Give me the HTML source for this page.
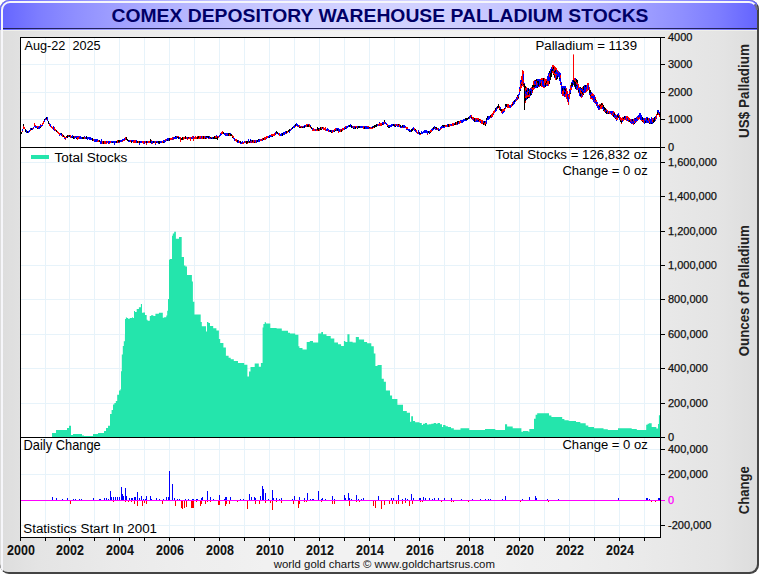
<!DOCTYPE html>
<html><head><meta charset="utf-8">
<style>
html,body{margin:0;padding:0;background:#fff;}
body{width:760px;height:575px;position:relative;overflow:hidden;font-family:"Liberation Sans",sans-serif;}
svg{position:absolute;left:0;top:0;}
text{font-family:"Liberation Sans",sans-serif;}
</style></head><body>
<svg width="760" height="575" viewBox="0 0 760 575">
<defs>
<linearGradient id="hdr" x1="0" x2="1" y1="0" y2="0">
<stop offset="0.00" stop-color="#6464ff"/><stop offset="0.05" stop-color="#7d7dff"/><stop offset="0.10" stop-color="#8f8fff"/><stop offset="0.15" stop-color="#9e9eff"/><stop offset="0.20" stop-color="#acacff"/><stop offset="0.25" stop-color="#b7b7ff"/><stop offset="0.30" stop-color="#c1c1ff"/><stop offset="0.35" stop-color="#c8c8ff"/><stop offset="0.40" stop-color="#ceceff"/><stop offset="0.45" stop-color="#d1d1ff"/><stop offset="0.50" stop-color="#d2d2ff"/><stop offset="0.55" stop-color="#d1d1ff"/><stop offset="0.60" stop-color="#ceceff"/><stop offset="0.65" stop-color="#c8c8ff"/><stop offset="0.70" stop-color="#c1c1ff"/><stop offset="0.75" stop-color="#b7b7ff"/><stop offset="0.80" stop-color="#acacff"/><stop offset="0.85" stop-color="#9e9eff"/><stop offset="0.90" stop-color="#8f8fff"/><stop offset="0.95" stop-color="#7d7dff"/><stop offset="1.00" stop-color="#6464ff"/>
</linearGradient>
<linearGradient id="gry" x1="0" x2="1" y1="0" y2="0">
<stop offset="0.00" stop-color="#dddddd"/><stop offset="0.05" stop-color="#e4e4e4"/><stop offset="0.10" stop-color="#e7e7e7"/><stop offset="0.15" stop-color="#eaeaea"/><stop offset="0.20" stop-color="#ececec"/><stop offset="0.25" stop-color="#eeeeee"/><stop offset="0.30" stop-color="#efefef"/><stop offset="0.35" stop-color="#f1f1f1"/><stop offset="0.40" stop-color="#f1f1f1"/><stop offset="0.45" stop-color="#f2f2f2"/><stop offset="0.50" stop-color="#f2f2f2"/><stop offset="0.55" stop-color="#f2f2f2"/><stop offset="0.60" stop-color="#f1f1f1"/><stop offset="0.65" stop-color="#f1f1f1"/><stop offset="0.70" stop-color="#efefef"/><stop offset="0.75" stop-color="#eeeeee"/><stop offset="0.80" stop-color="#ececec"/><stop offset="0.85" stop-color="#eaeaea"/><stop offset="0.90" stop-color="#e7e7e7"/><stop offset="0.95" stop-color="#e4e4e4"/><stop offset="1.00" stop-color="#dddddd"/>
</linearGradient>
<clipPath id="frame"><rect x="0" y="0" width="759" height="574" rx="9" ry="9"/></clipPath>
</defs>
<rect x="0" y="0" width="759" height="574" rx="9" ry="9" fill="#444"/>
<g clip-path="url(#frame)">
<rect x="0" y="0" width="757" height="572" rx="8" ry="8" fill="url(#gry)"/>
<rect x="0" y="0" width="757" height="30" fill="url(#hdr)"/>
<path d="M2,572V10A8,8 0 0 1 10,2H749A8,8 0 0 1 754.66,4.34" fill="none" stroke="#f6f6fa" stroke-width="2"/><path d="M754.66,4.34A8,8 0 0 1 757,10" fill="none" stroke="#707080" stroke-width="2"/>
<rect x="3" y="28" width="754" height="1" fill="#22225a"/>
<rect x="3" y="30" width="754" height="1" fill="#f0f0ea"/>
</g>
<text x="111.46" y="21.7" font-size="18.5" font-weight="bold" fill="#000066" textLength="537.04" lengthAdjust="spacingAndGlyphs">COMEX DEPOSITORY WAREHOUSE PALLADIUM STOCKS</text>
<rect x="20" y="37" width="640" height="500" fill="#fff"/>
<path d="M45.5,38V537 M69.5,38V537 M94.5,38V537 M119.5,38V537 M144.5,38V537 M169.5,38V537 M194.5,38V537 M219.5,38V537 M244.5,38V537 M269.5,38V537 M294.5,38V537 M319.5,38V537 M344.5,38V537 M369.5,38V537 M394.5,38V537 M419.5,38V537 M444.5,38V537 M469.5,38V537 M494.5,38V537 M519.5,38V537 M544.5,38V537 M569.5,38V537 M594.5,38V537 M619.5,38V537 M644.5,38V537 M21,119.5H660 M21,92.5H660 M21,64.5H660 M21,403.5H660 M21,368.5H660 M21,334.5H660 M21,299.5H660 M21,265.5H660 M21,231.5H660 M21,196.5H660 M21,162.5H660 M21,449.5H660 M21,474.5H660 M21,525.5H660" stroke="#e7f3fa" stroke-width="1" fill="none"/>
<path d="M52.0,437.0 L52.0,433.0 L56.0,433.0 L56.0,430.0 L67.0,430.0 L67.0,428.0 L69.0,428.0 L69.0,425.8 L71.0,425.8 L71.0,435.0 L73.0,435.0 L73.0,434.0 L82.0,434.0 L82.0,435.5 L84.0,435.5 L84.0,436.0 L93.0,436.0 L93.0,434.0 L98.0,434.0 L98.0,433.0 L104.0,433.0 L104.0,431.0 L106.0,431.0 L106.0,428.0 L108.0,428.0 L108.0,425.8 L110.0,425.8 L110.0,414.0 L111.6,414.0 L111.6,410.0 L113.0,410.0 L113.0,404.5 L114.4,404.5 L114.4,403.0 L115.8,403.0 L115.8,401.0 L117.2,401.0 L117.2,394.8 L119.0,394.8 L119.0,390.6 L120.4,390.6 L120.4,389.2 L121.0,389.2 L121.0,371.2 L121.8,371.2 L121.8,354.5 L122.8,354.5 L122.8,346.0 L123.8,346.0 L123.8,341.3 L124.9,341.3 L124.9,335.0 L125.0,335.0 L125.0,318.9 L125.9,318.9 L125.9,317.2 L126.7,317.2 L126.7,318.0 L128.0,318.0 L128.0,318.7 L129.8,318.7 L129.8,318.0 L132.0,318.0 L132.0,317.2 L132.8,317.2 L132.8,318.0 L134.0,318.0 L134.0,311.0 L135.0,311.0 L135.0,312.0 L136.7,312.0 L136.7,309.0 L138.9,309.0 L138.9,307.2 L140.9,307.2 L140.9,304.1 L142.0,304.1 L142.0,312.8 L143.3,312.8 L143.3,312.4 L145.0,312.4 L145.0,315.0 L146.7,315.0 L146.7,319.8 L147.6,319.8 L147.6,320.7 L149.8,320.7 L149.8,315.9 L151.1,315.9 L151.1,315.2 L153.3,315.2 L153.3,315.9 L155.4,315.9 L155.4,313.7 L158.9,313.7 L158.9,312.8 L162.8,312.8 L162.8,317.8 L164.1,317.8 L164.1,317.2 L166.3,317.2 L166.3,315.4 L167.2,315.4 L167.2,310.7 L168.0,310.7 L168.0,299.0 L169.0,299.0 L169.0,260.0 L169.6,260.0 L169.6,259.0 L172.0,259.0 L172.0,235.7 L172.8,235.7 L172.8,233.6 L174.2,233.6 L174.2,231.8 L175.9,231.8 L175.9,238.8 L179.0,238.8 L179.0,237.1 L181.7,237.1 L181.7,256.9 L184.0,256.9 L184.0,265.6 L185.4,265.6 L185.4,266.6 L187.0,266.6 L187.0,275.0 L191.9,275.0 L191.9,281.6 L192.9,281.6 L192.9,301.8 L194.4,301.8 L194.4,314.4 L200.7,314.4 L200.7,322.0 L201.8,322.0 L201.8,326.3 L206.0,326.3 L206.0,331.5 L207.0,331.5 L207.0,322.0 L208.4,322.0 L208.4,323.0 L210.0,323.0 L210.0,326.0 L213.2,326.0 L213.2,328.3 L216.4,328.3 L216.4,330.4 L218.9,330.4 L218.9,339.0 L220.2,339.0 L220.2,343.0 L223.4,343.0 L223.4,347.4 L225.9,347.4 L225.9,355.7 L228.6,355.7 L228.6,357.8 L230.7,357.8 L230.7,359.3 L233.8,359.3 L233.8,361.0 L238.0,361.0 L238.0,363.0 L244.2,363.0 L244.2,364.7 L247.4,364.7 L247.4,376.6 L249.0,376.6 L249.0,371.4 L250.5,371.4 L250.5,367.0 L254.7,367.0 L254.7,363.4 L258.8,363.4 L258.8,366.8 L260.9,366.8 L260.9,363.0 L262.6,363.0 L262.6,327.5 L263.4,327.5 L263.4,324.0 L264.7,324.0 L264.7,322.3 L266.0,322.3 L266.0,323.4 L270.3,323.4 L270.3,328.0 L276.6,328.0 L276.6,328.6 L281.8,328.6 L281.8,330.7 L288.0,330.7 L288.0,332.7 L290.0,332.7 L290.0,333.4 L295.2,333.4 L295.2,334.8 L298.4,334.8 L298.4,346.3 L299.4,346.3 L299.4,348.0 L302.5,348.0 L302.5,349.4 L306.7,349.4 L306.7,342.0 L309.8,342.0 L309.8,341.0 L313.0,341.0 L313.0,342.6 L318.2,342.6 L318.2,333.4 L321.3,333.4 L321.3,332.0 L323.0,332.0 L323.0,334.2 L326.5,334.2 L326.5,335.9 L330.7,335.9 L330.7,338.4 L334.3,338.4 L334.3,342.6 L338.0,342.6 L338.0,344.2 L341.1,344.2 L341.1,346.0 L343.9,346.0 L343.9,341.0 L345.3,341.0 L345.3,342.0 L347.4,342.0 L347.4,334.2 L349.5,334.2 L349.5,341.7 L352.6,341.7 L352.6,342.6 L355.8,342.6 L355.8,337.0 L358.9,337.0 L358.9,339.6 L364.1,339.6 L364.1,342.0 L367.1,342.0 L367.1,343.2 L371.3,343.2 L371.3,346.3 L373.8,346.3 L373.8,353.6 L375.4,353.6 L375.4,366.1 L377.5,366.1 L377.5,365.0 L381.7,365.0 L381.7,378.7 L383.8,378.7 L383.8,381.8 L385.9,381.8 L385.9,390.6 L390.0,390.6 L390.0,395.4 L392.1,395.4 L392.1,399.0 L397.4,399.0 L397.4,404.8 L403.0,404.8 L403.0,411.0 L406.8,411.0 L406.8,412.7 L410.0,412.7 L410.0,421.8 L411.2,421.8 L411.2,416.2 L413.0,416.2 L413.0,421.0 L415.1,421.0 L415.1,422.2 L419.5,422.2 L419.5,423.0 L421.8,423.0 L421.8,425.0 L423.0,425.0 L423.0,423.8 L425.0,423.8 L425.0,423.0 L427.0,423.0 L427.0,424.6 L429.0,424.6 L429.0,424.2 L431.3,424.2 L431.3,423.8 L433.7,423.8 L433.7,423.0 L436.0,423.0 L436.0,423.8 L437.6,423.8 L437.6,423.0 L440.0,423.0 L440.0,424.2 L442.0,424.2 L442.0,427.0 L443.1,427.0 L443.1,425.0 L445.5,425.0 L445.5,426.2 L447.9,426.2 L447.9,427.0 L451.0,427.0 L451.0,428.2 L453.8,428.2 L453.8,429.7 L460.5,429.7 L460.5,428.2 L469.2,428.2 L469.2,430.0 L485.0,430.0 L485.0,429.0 L495.3,429.0 L495.3,430.0 L505.0,430.0 L505.0,424.2 L507.1,424.2 L507.1,426.6 L512.7,426.6 L512.7,428.2 L521.4,428.2 L521.4,431.7 L523.0,431.7 L523.0,431.0 L528.5,431.0 L528.5,432.1 L529.3,432.1 L529.3,429.0 L534.0,429.0 L534.0,418.7 L535.6,418.7 L535.6,414.7 L537.2,414.7 L537.2,413.2 L549.0,413.2 L549.0,415.5 L551.4,415.5 L551.4,417.1 L555.0,417.1 L555.0,417.0 L562.2,417.0 L562.2,418.9 L564.4,418.9 L564.4,420.3 L568.7,420.3 L568.7,421.0 L576.0,421.0 L576.0,422.0 L580.3,422.0 L580.3,423.2 L585.7,423.2 L585.7,425.4 L588.3,425.4 L588.3,427.1 L594.0,427.1 L594.0,428.3 L603.5,428.3 L603.5,429.3 L607.8,429.3 L607.8,430.0 L618.0,430.0 L618.0,428.3 L631.7,428.3 L631.7,429.0 L636.8,429.0 L636.8,430.0 L646.2,430.0 L646.2,424.7 L647.6,424.7 L647.6,423.7 L649.0,423.7 L649.0,423.2 L651.7,423.2 L651.7,427.1 L656.3,427.1 L656.3,428.6 L658.0,428.6 L658.0,424.0 L658.9,424.0 L658.9,415.3 L660.0,415.3 L660.0,437.0Z" fill="#24e5ac"/>
<rect x="21" y="500" width="644" height="1" fill="#ff00ff"/>
<g fill="#0000ff"><rect x="52" y="497" width="1" height="3"/><rect x="56" y="498" width="1" height="2"/><rect x="62" y="499" width="1" height="1"/><rect x="67" y="498" width="1" height="2"/><rect x="73" y="499" width="1" height="1"/><rect x="75" y="499" width="1" height="1"/><rect x="79" y="499" width="1" height="1"/><rect x="81" y="499" width="1" height="1"/><rect x="93" y="498" width="1" height="2"/><rect x="99" y="499" width="1" height="1"/><rect x="100" y="499" width="1" height="1"/><rect x="104" y="498" width="1" height="2"/><rect x="106" y="498" width="1" height="2"/><rect x="108" y="499" width="1" height="1"/><rect x="110" y="491" width="1" height="9"/><rect x="111" y="497" width="1" height="3"/><rect x="113" y="497" width="1" height="3"/><rect x="115" y="497" width="1" height="3"/><rect x="117" y="497" width="1" height="3"/><rect x="119" y="497" width="1" height="3"/><rect x="121" y="487" width="1" height="13"/><rect x="122" y="494" width="1" height="6"/><rect x="123" y="496" width="1" height="4"/><rect x="125" y="488" width="1" height="12"/><rect x="126" y="496" width="1" height="4"/><rect x="129" y="498" width="1" height="2"/><rect x="131" y="498" width="1" height="2"/><rect x="132" y="498" width="1" height="2"/><rect x="134" y="497" width="1" height="3"/><rect x="135" y="497" width="1" height="3"/><rect x="137" y="492" width="1" height="8"/><rect x="139" y="498" width="1" height="2"/><rect x="141" y="496" width="1" height="4"/><rect x="143" y="499" width="1" height="1"/><rect x="145" y="499" width="1" height="1"/><rect x="146" y="496" width="1" height="4"/><rect x="150" y="496" width="1" height="4"/><rect x="151" y="499" width="1" height="1"/><rect x="156" y="498" width="1" height="2"/><rect x="159" y="499" width="1" height="1"/><rect x="163" y="499" width="1" height="1"/><rect x="166" y="497" width="1" height="3"/><rect x="168" y="497" width="1" height="3"/><rect x="169" y="471" width="1" height="29"/><rect x="172" y="484" width="1" height="16"/><rect x="174" y="498" width="1" height="2"/><rect x="177" y="499" width="1" height="1"/><rect x="179" y="499" width="1" height="1"/><rect x="185" y="499" width="1" height="1"/><rect x="188" y="499" width="1" height="1"/><rect x="192" y="499" width="1" height="1"/><rect x="193" y="499" width="1" height="1"/><rect x="197" y="499" width="1" height="1"/><rect x="196" y="499" width="1" height="1"/><rect x="201" y="498" width="1" height="2"/><rect x="202" y="497" width="1" height="3"/><rect x="207" y="491" width="1" height="9"/><rect x="210" y="497" width="1" height="3"/><rect x="213" y="499" width="1" height="1"/><rect x="219" y="495" width="1" height="5"/><rect x="224" y="499" width="1" height="1"/><rect x="225" y="497" width="1" height="3"/><rect x="226" y="497" width="1" height="3"/><rect x="230" y="497" width="1" height="3"/><rect x="240" y="499" width="1" height="1"/><rect x="243" y="499" width="1" height="1"/><rect x="249" y="494" width="1" height="6"/><rect x="251" y="497" width="1" height="3"/><rect x="254" y="497" width="1" height="3"/><rect x="255" y="498" width="1" height="2"/><rect x="260" y="496" width="1" height="4"/><rect x="262" y="486" width="1" height="14"/><rect x="263" y="489" width="1" height="11"/><rect x="265" y="493" width="1" height="7"/><rect x="268" y="499" width="1" height="1"/><rect x="272" y="490" width="1" height="10"/><rect x="273" y="498" width="1" height="2"/><rect x="276" y="498" width="1" height="2"/><rect x="279" y="499" width="1" height="1"/><rect x="281" y="498" width="1" height="2"/><rect x="292" y="499" width="1" height="1"/><rect x="294" y="496" width="1" height="4"/><rect x="299" y="497" width="1" height="3"/><rect x="304" y="498" width="1" height="2"/><rect x="307" y="493" width="1" height="7"/><rect x="310" y="499" width="1" height="1"/><rect x="312" y="499" width="1" height="1"/><rect x="313" y="499" width="1" height="1"/><rect x="318" y="491" width="1" height="9"/><rect x="321" y="499" width="1" height="1"/><rect x="322" y="498" width="1" height="2"/><rect x="325" y="499" width="1" height="1"/><rect x="332" y="496" width="1" height="4"/><rect x="334" y="499" width="1" height="1"/><rect x="344" y="495" width="1" height="5"/><rect x="345" y="498" width="1" height="2"/><rect x="348" y="493" width="1" height="7"/><rect x="349" y="498" width="1" height="2"/><rect x="351" y="499" width="1" height="1"/><rect x="356" y="495" width="1" height="5"/><rect x="358" y="499" width="1" height="1"/><rect x="361" y="499" width="1" height="1"/><rect x="363" y="498" width="1" height="2"/><rect x="378" y="496" width="1" height="4"/><rect x="391" y="498" width="1" height="2"/><rect x="393" y="498" width="1" height="2"/><rect x="398" y="495" width="1" height="5"/><rect x="402" y="499" width="1" height="1"/><rect x="405" y="498" width="1" height="2"/><rect x="407" y="499" width="1" height="1"/><rect x="411" y="494" width="1" height="6"/><rect x="413" y="498" width="1" height="2"/><rect x="419" y="498" width="1" height="2"/><rect x="420" y="498" width="1" height="2"/><rect x="423" y="497" width="1" height="3"/><rect x="425" y="498" width="1" height="2"/><rect x="429" y="498" width="1" height="2"/><rect x="432" y="499" width="1" height="1"/><rect x="434" y="498" width="1" height="2"/><rect x="438" y="498" width="1" height="2"/><rect x="444" y="498" width="1" height="2"/><rect x="451" y="498" width="1" height="2"/><rect x="461" y="499" width="1" height="1"/><rect x="472" y="499" width="1" height="1"/><rect x="480" y="499" width="1" height="1"/><rect x="485" y="499" width="1" height="1"/><rect x="488" y="499" width="1" height="1"/><rect x="490" y="499" width="1" height="1"/><rect x="502" y="499" width="1" height="1"/><rect x="505" y="496" width="1" height="4"/><rect x="522" y="499" width="1" height="1"/><rect x="529" y="497" width="1" height="3"/><rect x="529" y="497" width="1" height="3"/><rect x="535" y="496" width="1" height="4"/><rect x="536" y="498" width="1" height="2"/><rect x="547" y="499" width="1" height="1"/><rect x="558" y="499" width="1" height="1"/><rect x="618" y="498" width="1" height="2"/><rect x="646" y="498" width="1" height="2"/><rect x="647" y="498" width="1" height="2"/><rect x="649" y="499" width="1" height="1"/><rect x="658" y="498" width="1" height="2"/><rect x="659" y="498" width="1" height="2"/></g>
<g fill="#ff0000"><rect x="70" y="501" width="1" height="3"/><rect x="113" y="501" width="1" height="1"/><rect x="125" y="501" width="1" height="1"/><rect x="128" y="501" width="1" height="1"/><rect x="131" y="501" width="1" height="1"/><rect x="134" y="501" width="1" height="3"/><rect x="137" y="501" width="1" height="5"/><rect x="142" y="501" width="1" height="5"/><rect x="144" y="501" width="1" height="2"/><rect x="146" y="501" width="1" height="3"/><rect x="162" y="501" width="1" height="3"/><rect x="175" y="501" width="1" height="5"/><rect x="181" y="501" width="1" height="7"/><rect x="182" y="501" width="1" height="8"/><rect x="184" y="501" width="1" height="7"/><rect x="186" y="501" width="1" height="6"/><rect x="191" y="501" width="1" height="7"/><rect x="192" y="501" width="1" height="7"/><rect x="193" y="501" width="1" height="7"/><rect x="196" y="501" width="1" height="1"/><rect x="200" y="501" width="1" height="5"/><rect x="201" y="501" width="1" height="3"/><rect x="205" y="501" width="1" height="3"/><rect x="207" y="501" width="1" height="1"/><rect x="210" y="501" width="1" height="1"/><rect x="218" y="501" width="1" height="4"/><rect x="219" y="501" width="1" height="4"/><rect x="225" y="501" width="1" height="5"/><rect x="226" y="501" width="1" height="3"/><rect x="229" y="501" width="1" height="3"/><rect x="237" y="501" width="1" height="1"/><rect x="247" y="501" width="1" height="8"/><rect x="255" y="501" width="1" height="3"/><rect x="259" y="501" width="1" height="3"/><rect x="265" y="501" width="1" height="2"/><rect x="270" y="501" width="1" height="2"/><rect x="272" y="501" width="1" height="9"/><rect x="276" y="501" width="1" height="1"/><rect x="281" y="501" width="1" height="2"/><rect x="293" y="501" width="1" height="3"/><rect x="298" y="501" width="1" height="7"/><rect x="299" y="501" width="1" height="3"/><rect x="304" y="501" width="1" height="1"/><rect x="306" y="501" width="1" height="1"/><rect x="306" y="501" width="1" height="1"/><rect x="321" y="501" width="1" height="1"/><rect x="332" y="501" width="1" height="3"/><rect x="334" y="501" width="1" height="3"/><rect x="349" y="501" width="1" height="5"/><rect x="356" y="501" width="1" height="1"/><rect x="359" y="501" width="1" height="1"/><rect x="373" y="501" width="1" height="5"/><rect x="375" y="501" width="1" height="7"/><rect x="381" y="501" width="1" height="8"/><rect x="384" y="501" width="1" height="4"/><rect x="389" y="501" width="1" height="3"/><rect x="392" y="501" width="1" height="3"/><rect x="396" y="501" width="1" height="3"/><rect x="398" y="501" width="1" height="3"/><rect x="402" y="501" width="1" height="3"/><rect x="405" y="501" width="1" height="2"/><rect x="409" y="501" width="1" height="5"/><rect x="412" y="501" width="1" height="3"/><rect x="420" y="501" width="1" height="1"/><rect x="422" y="501" width="1" height="1"/><rect x="441" y="501" width="1" height="1"/><rect x="451" y="501" width="1" height="1"/><rect x="453" y="501" width="1" height="1"/><rect x="468" y="501" width="1" height="1"/><rect x="520" y="501" width="1" height="1"/><rect x="548" y="501" width="1" height="1"/><rect x="651" y="501" width="1" height="1"/><rect x="655" y="501" width="1" height="1"/></g>
<path d="M22.5,129v2M26.5,130v1M26.5,131v2M28.5,131v2M29.5,130v2M30.5,128v2M32.5,128v2M33.5,127v1M34.5,126v1M35.5,126v2M36.5,126v2M38.5,127v2M39.5,126v2M39.5,128v1M40.5,125v2M41.5,125v1M42.5,125v1M44.5,120v2M45.5,118v2M47.5,117v2M47.5,119v2M49.5,123v1M50.5,124v3M53.5,126v3M53.5,129v1M54.5,130v1M59.5,135v1M60.5,133v2M61.5,134v2M64.5,138v1M65.5,138v1M68.5,136v1M71.5,136v2M72.5,135v1M72.5,136v1M74.5,137v2M75.5,136v2M76.5,136v2M77.5,136v1M78.5,136v1M79.5,137v2M80.5,136v1M80.5,137v2M81.5,137v2M84.5,136v1M85.5,137v2M87.5,137v3M88.5,137v2M89.5,137v2M89.5,139v1M90.5,137v2M90.5,139v1M91.5,138v2M94.5,139v3M95.5,139v2M95.5,141v1M96.5,139v1M96.5,140v2M97.5,139v2M100.5,141v2M100.5,143v1M101.5,139v3M101.5,142v2M106.5,141v2M108.5,141v3M109.5,141v2M111.5,141v2M112.5,141v1M113.5,141v2M114.5,141v2M114.5,143v2M115.5,141v2M118.5,142v1M120.5,140v2M121.5,140v2M122.5,139v1M122.5,140v1M123.5,139v1M124.5,138v2M128.5,141v1M129.5,140v2M131.5,140v1M132.5,140v2M133.5,140v1M136.5,140v2M136.5,142v1M139.5,143v2M140.5,141v2M141.5,141v2M144.5,141v3M147.5,141v2M151.5,141v1M151.5,142v2M152.5,141v2M154.5,141v2M155.5,144v1M156.5,141v1M157.5,141v2M158.5,143v1M160.5,141v2M161.5,141v2M163.5,140v1M163.5,141v1M164.5,140v2M164.5,142v1M165.5,141v1M166.5,139v2M167.5,138v2M168.5,138v2M168.5,140v1M172.5,139v1M173.5,137v2M174.5,137v2M175.5,137v2M176.5,136v2M176.5,138v1M179.5,137v2M187.5,137v2M191.5,137v2M192.5,138v1M193.5,136v2M200.5,138v1M201.5,136v1M201.5,137v1M205.5,136v2M206.5,137v1M207.5,137v1M208.5,138v1M209.5,136v2M210.5,138v1M212.5,137v2M216.5,135v1M217.5,136v1M219.5,135v2M220.5,133v1M220.5,134v2M221.5,134v1M224.5,133v2M225.5,133v3M226.5,133v1M226.5,135v1M227.5,133v2M227.5,135v1M230.5,133v1M233.5,138v1M234.5,138v3M237.5,142v1M238.5,140v2M238.5,142v1M240.5,143v1M241.5,142v2M242.5,141v2M244.5,141v2M248.5,139v2M248.5,141v1M250.5,139v1M250.5,141v1M251.5,140v1M251.5,142v1M254.5,140v2M256.5,140v3M258.5,140v2M259.5,139v2M259.5,141v1M261.5,139v1M262.5,140v1M266.5,138v1M268.5,136v2M269.5,135v2M270.5,135v2M271.5,136v1M275.5,132v3M278.5,133v1M278.5,134v1M280.5,134v2M281.5,133v3M283.5,132v2M283.5,134v1M284.5,132v3M285.5,131v2M286.5,133v1M289.5,131v2M290.5,130v1M291.5,128v2M293.5,126v2M294.5,125v3M296.5,123v1M296.5,124v1M296.5,125v1M297.5,124v2M298.5,125v2M301.5,126v1M303.5,126v2M304.5,125v1M305.5,125v2M308.5,124v1M310.5,125v1M312.5,128v2M315.5,129v2M319.5,128v1M322.5,128v1M326.5,129v2M327.5,128v3M328.5,129v1M329.5,130v2M331.5,130v2M333.5,130v2M336.5,128v3M337.5,128v1M338.5,128v3M339.5,129v3M341.5,129v1M344.5,127v2M344.5,129v1M346.5,126v2M346.5,128v1M347.5,126v2M348.5,125v2M350.5,124v2M350.5,126v1M352.5,126v2M354.5,126v3M357.5,126v2M360.5,126v2M361.5,126v2M362.5,126v1M362.5,127v1M364.5,126v1M365.5,126v3M366.5,126v3M367.5,127v2M368.5,127v2M371.5,127v1M372.5,126v1M377.5,124v2M379.5,122v1M379.5,125v1M382.5,122v2M383.5,122v2M383.5,124v1M385.5,122v2M386.5,123v2M388.5,125v2M389.5,125v2M390.5,125v2M391.5,124v3M392.5,124v2M394.5,124v1M394.5,126v1M396.5,124v2M397.5,126v1M398.5,125v2M400.5,127v1M401.5,126v2M403.5,125v2M403.5,127v1M404.5,125v2M404.5,127v1M405.5,126v1M406.5,129v1M407.5,129v1M408.5,129v2M409.5,129v2M410.5,130v1M410.5,131v1M412.5,128v1M413.5,127v1M413.5,128v2M414.5,130v1M415.5,130v2M416.5,132v1M418.5,130v2M418.5,132v2M419.5,134v1M421.5,131v1M421.5,132v1M421.5,133v1M422.5,132v2M423.5,131v2M424.5,130v1M424.5,131v2M425.5,130v2M425.5,132v1M426.5,130v3M427.5,131v1M427.5,132v2M429.5,131v2M431.5,129v1M432.5,128v2M432.5,130v1M433.5,129v1M434.5,126v1M434.5,127v1M434.5,128v1M435.5,129v1M436.5,129v1M438.5,128v2M439.5,129v1M439.5,130v1M440.5,127v2M441.5,126v2M442.5,126v2M443.5,127v1M444.5,126v2M447.5,124v3M450.5,124v1M451.5,124v2M454.5,123v1M457.5,124v1M458.5,122v2M460.5,120v1M461.5,120v2M461.5,122v1M462.5,120v3M463.5,119v2M463.5,121v1M464.5,119v2M465.5,120v1M466.5,120v1M469.5,116v2M469.5,118v1M470.5,115v2M471.5,118v1M473.5,119v2M475.5,121v1M476.5,119v3M477.5,120v2M478.5,121v1M480.5,121v2M483.5,121v2M485.5,121v1M486.5,120v2M486.5,122v2M487.5,118v2M488.5,116v2M488.5,118v2M489.5,116v3M491.5,117v1M493.5,114v1M495.5,110v1M495.5,111v1M496.5,107v2M496.5,109v2M500.5,107v2M502.5,112v2M503.5,111v2M504.5,111v1M505.5,106v2M509.5,105v2M510.5,105v1M510.5,106v1M510.5,107v1M512.5,105v1M513.5,101v3M513.5,104v1M514.5,102v2M515.5,99v2M515.5,101v1M516.5,97v2M517.5,98v2M518.5,94v3M519.5,87v2M519.5,92v3M520.5,80v2M520.5,82v2M520.5,89v1M521.5,80v2M521.5,85v1M522.5,80v3M523.5,74v3M523.5,77v3M523.5,82v1M524.5,83v2M524.5,87v1M524.5,104v1M524.5,107v1M525.5,91v3M525.5,95v1M526.5,92v3M526.5,98v1M526.5,99v1M527.5,88v2M527.5,90v2M527.5,94v1M529.5,89v2M529.5,91v3M529.5,97v1M530.5,88v2M530.5,90v1M530.5,95v1M531.5,89v2M531.5,91v3M534.5,81v2M534.5,83v1M534.5,87v1M535.5,81v3M535.5,84v1M535.5,86v2M536.5,85v1M536.5,86v2M537.5,79v2M537.5,83v2M537.5,85v2M538.5,79v2M538.5,86v1M539.5,79v3M539.5,82v1M539.5,83v2M540.5,80v3M541.5,80v1M542.5,80v3M542.5,83v1M542.5,84v2M543.5,81v2M543.5,83v2M543.5,85v2M544.5,85v2M546.5,85v1M547.5,76v2M547.5,78v3M547.5,84v2M548.5,73v3M548.5,76v3M548.5,79v2M549.5,73v1M549.5,77v3M549.5,80v1M550.5,69v1M550.5,70v3M551.5,67v3M553.5,69v2M554.5,77v1M555.5,72v2M556.5,70v2M556.5,72v2M556.5,75v3M557.5,72v2M557.5,74v2M558.5,71v1M558.5,73v2M558.5,75v2M559.5,72v2M559.5,74v2M559.5,76v2M559.5,79v2M560.5,73v2M560.5,78v2M560.5,80v2M560.5,83v2M561.5,82v3M561.5,86v3M561.5,89v2M561.5,91v3M562.5,86v2M563.5,86v2M563.5,88v2M563.5,94v1M564.5,86v2M564.5,90v2M564.5,94v2M564.5,96v1M565.5,86v2M565.5,88v1M565.5,91v3M567.5,94v2M567.5,96v2M567.5,98v1M568.5,94v1M568.5,97v2M568.5,99v3M569.5,89v2M569.5,93v1M570.5,90v3M571.5,82v1M571.5,86v2M572.5,80v3M572.5,86v1M573.5,82v2M573.5,84v1M574.5,86v1M575.5,78v2M576.5,84v1M576.5,86v2M576.5,88v1M576.5,89v1M577.5,85v3M578.5,88v2M579.5,88v3M579.5,91v1M579.5,92v2M579.5,94v1M579.5,95v1M580.5,88v2M580.5,96v1M581.5,89v2M581.5,94v2M582.5,89v3M582.5,96v1M583.5,91v2M584.5,85v3M584.5,88v3M584.5,91v2M585.5,87v2M585.5,89v3M586.5,85v2M586.5,87v2M588.5,85v2M588.5,87v1M588.5,88v2M589.5,93v1M589.5,94v1M590.5,93v2M591.5,92v2M591.5,96v2M592.5,96v2M593.5,96v3M593.5,99v2M593.5,101v1M594.5,95v1M594.5,96v2M594.5,98v3M594.5,102v1M595.5,101v2M596.5,102v2M596.5,104v1M596.5,105v1M597.5,102v2M597.5,106v2M598.5,105v3M598.5,108v2M599.5,107v2M602.5,107v2M603.5,108v2M605.5,110v2M606.5,110v1M607.5,113v1M608.5,111v2M610.5,111v2M611.5,111v1M611.5,112v2M611.5,114v1M612.5,111v2M613.5,113v2M614.5,115v2M614.5,117v1M615.5,115v1M615.5,116v1M616.5,116v2M616.5,120v1M617.5,114v1M618.5,113v3M619.5,117v3M622.5,120v2M623.5,117v1M625.5,116v2M625.5,118v1M625.5,119v1M627.5,118v2M627.5,120v1M628.5,120v1M630.5,121v1M630.5,122v1M631.5,119v2M631.5,122v2M632.5,121v2M633.5,121v3M634.5,118v3M635.5,119v3M635.5,122v1M636.5,117v2M636.5,119v2M637.5,116v1M637.5,119v2M638.5,115v1M638.5,116v2M639.5,113v3M639.5,116v1M640.5,113v2M640.5,115v2M640.5,117v1M640.5,118v2M641.5,115v3M641.5,118v2M643.5,118v1M643.5,119v1M644.5,118v3M644.5,121v3M645.5,120v1M646.5,117v2M646.5,119v2M646.5,121v2M647.5,117v1M647.5,120v1M647.5,121v2M648.5,121v2M649.5,118v3M650.5,119v1M650.5,120v2M650.5,122v2M651.5,117v2M651.5,119v2M651.5,121v2M652.5,122v2M653.5,118v2M655.5,116v2M655.5,120v1M656.5,118v1M657.5,110v2M658.5,110v3M659.5,112v2" stroke="#0000ff" stroke-width="1" fill="none"/><path d="M22.5,131v1M23.5,126v2M23.5,128v1M24.5,127v2M30.5,130v1M33.5,128v1M34.5,123v2M34.5,125v1M35.5,125v1M37.5,126v2M38.5,126v1M40.5,124v1M41.5,126v1M42.5,123v2M43.5,121v3M46.5,119v1M49.5,124v2M51.5,126v2M52.5,127v2M54.5,127v2M54.5,129v1M55.5,129v2M57.5,131v2M58.5,132v2M59.5,133v2M62.5,134v2M62.5,136v1M64.5,136v2M65.5,137v1M65.5,139v1M66.5,137v1M68.5,135v1M70.5,135v2M70.5,137v1M74.5,136v1M77.5,137v3M78.5,137v2M79.5,136v1M84.5,137v2M93.5,139v2M97.5,141v1M98.5,140v2M102.5,141v3M104.5,141v2M104.5,143v1M105.5,141v2M105.5,143v1M106.5,143v1M107.5,141v1M107.5,142v1M109.5,143v1M110.5,141v2M117.5,140v3M119.5,142v1M122.5,141v1M123.5,140v1M124.5,140v1M125.5,137v2M125.5,139v1M130.5,140v2M133.5,141v2M134.5,140v2M134.5,142v1M135.5,140v2M135.5,142v1M138.5,141v2M142.5,141v2M143.5,141v2M143.5,143v1M145.5,141v2M146.5,143v2M148.5,141v1M148.5,142v1M149.5,141v2M151.5,140v1M152.5,143v1M155.5,141v3M162.5,141v1M162.5,142v1M165.5,139v2M170.5,138v2M171.5,138v2M172.5,137v2M173.5,139v1M177.5,136v1M178.5,136v1M180.5,137v1M180.5,138v2M180.5,140v2M183.5,137v1M183.5,138v2M184.5,137v2M186.5,137v2M187.5,139v1M188.5,138v1M189.5,137v2M190.5,137v2M190.5,139v2M192.5,136v2M193.5,138v2M193.5,140v1M194.5,137v2M195.5,136v2M195.5,138v1M196.5,137v2M197.5,136v1M198.5,138v1M199.5,136v1M199.5,137v2M200.5,136v2M201.5,138v1M202.5,136v2M202.5,138v1M204.5,136v1M204.5,137v2M206.5,138v1M209.5,138v1M211.5,137v1M215.5,136v2M216.5,136v2M218.5,136v2M221.5,132v2M222.5,131v2M222.5,133v1M226.5,134v1M229.5,134v2M232.5,135v2M233.5,136v2M235.5,139v2M236.5,139v3M239.5,141v2M242.5,143v1M243.5,142v1M243.5,143v1M245.5,141v2M247.5,143v1M248.5,142v1M250.5,142v1M251.5,141v1M252.5,142v1M253.5,140v3M255.5,140v1M255.5,141v2M260.5,139v2M261.5,140v1M262.5,138v2M264.5,137v3M265.5,137v2M265.5,139v1M266.5,136v2M267.5,136v1M267.5,137v1M271.5,134v2M272.5,134v2M273.5,134v2M274.5,133v2M274.5,135v1M276.5,133v1M279.5,133v3M285.5,133v1M287.5,131v2M290.5,129v1M295.5,126v1M297.5,126v1M299.5,125v2M300.5,126v1M301.5,127v1M302.5,126v1M306.5,124v2M306.5,126v1M307.5,124v1M309.5,124v2M309.5,126v1M310.5,127v1M312.5,130v1M313.5,128v3M314.5,129v2M316.5,129v2M317.5,130v1M319.5,129v2M321.5,127v2M323.5,127v2M323.5,129v1M324.5,128v2M325.5,127v1M325.5,128v3M328.5,130v2M332.5,130v2M332.5,132v1M334.5,129v2M335.5,128v2M338.5,131v2M340.5,129v2M340.5,131v1M342.5,128v1M342.5,129v2M343.5,128v2M345.5,126v2M353.5,126v2M355.5,126v1M356.5,126v2M363.5,126v3M367.5,126v1M368.5,126v1M369.5,128v1M370.5,127v2M371.5,128v1M372.5,128v1M373.5,127v1M378.5,124v2M379.5,123v2M380.5,123v2M380.5,125v1M381.5,123v3M384.5,122v2M387.5,124v1M387.5,125v1M395.5,124v2M397.5,124v2M399.5,124v2M399.5,126v1M402.5,127v1M405.5,127v1M406.5,127v2M407.5,127v2M414.5,128v2M416.5,130v2M417.5,132v2M420.5,134v1M427.5,134v1M430.5,130v2M431.5,130v1M431.5,131v1M435.5,128v1M437.5,128v2M440.5,129v1M441.5,128v1M445.5,125v2M446.5,125v2M449.5,124v2M449.5,126v1M450.5,125v1M452.5,123v3M453.5,123v3M456.5,122v2M456.5,124v1M459.5,121v2M459.5,123v1M460.5,121v2M470.5,117v1M471.5,115v2M472.5,117v2M472.5,119v1M473.5,117v2M475.5,118v3M476.5,118v1M477.5,118v2M478.5,118v2M479.5,120v2M480.5,119v2M481.5,120v1M481.5,121v3M482.5,120v3M482.5,123v1M484.5,123v2M485.5,122v2M490.5,117v1M491.5,114v3M492.5,113v2M492.5,115v2M493.5,111v3M494.5,110v3M497.5,108v1M499.5,106v2M499.5,108v1M501.5,111v2M502.5,109v3M503.5,109v2M504.5,109v2M505.5,108v1M507.5,104v2M507.5,106v2M508.5,104v2M508.5,106v2M509.5,107v1M511.5,104v3M512.5,102v2M516.5,99v2M517.5,96v2M518.5,98v1M519.5,89v3M520.5,84v1M520.5,85v2M520.5,87v2M521.5,76v2M521.5,78v2M521.5,82v2M521.5,86v2M522.5,72v3M522.5,79v1M523.5,71v3M523.5,80v2M523.5,83v1M523.5,85v2M524.5,88v2M524.5,90v3M524.5,94v2M524.5,96v3M524.5,99v3M524.5,105v2M525.5,88v1M525.5,89v2M525.5,94v1M525.5,96v2M525.5,101v1M525.5,102v1M526.5,87v2M526.5,89v1M526.5,95v2M526.5,97v1M527.5,92v2M527.5,95v2M528.5,91v1M528.5,95v2M529.5,94v3M531.5,87v2M532.5,88v1M532.5,89v1M532.5,91v2M533.5,81v2M533.5,83v2M533.5,87v2M533.5,89v1M534.5,80v1M534.5,84v1M534.5,88v1M536.5,81v2M536.5,83v2M539.5,85v2M540.5,79v1M541.5,78v2M541.5,81v2M541.5,83v2M541.5,85v2M542.5,78v2M542.5,86v1M543.5,87v1M544.5,78v2M544.5,80v1M544.5,81v1M544.5,82v3M544.5,87v1M545.5,79v2M545.5,81v2M546.5,79v2M546.5,83v2M547.5,81v3M548.5,81v3M548.5,84v2M549.5,74v3M552.5,65v1M552.5,66v3M552.5,71v2M553.5,65v2M553.5,71v2M553.5,73v1M554.5,66v1M554.5,67v2M554.5,69v2M554.5,73v2M555.5,67v3M555.5,74v3M555.5,77v3M556.5,68v2M556.5,74v1M557.5,70v2M558.5,72v1M560.5,75v3M560.5,82v1M561.5,85v1M562.5,91v2M562.5,93v3M563.5,90v2M563.5,92v2M563.5,95v1M565.5,94v2M565.5,96v1M566.5,88v1M566.5,89v3M566.5,92v2M566.5,94v3M566.5,97v2M567.5,91v2M567.5,93v1M567.5,99v2M567.5,101v1M568.5,95v2M568.5,102v3M569.5,91v2M569.5,94v3M569.5,97v2M570.5,85v3M570.5,88v2M571.5,88v2M574.5,78v3M575.5,80v2M576.5,82v2M577.5,83v2M577.5,88v2M578.5,84v2M578.5,86v1M578.5,87v1M578.5,92v1M579.5,87v1M580.5,90v2M580.5,92v1M581.5,92v2M581.5,96v1M581.5,97v1M582.5,87v2M582.5,94v2M583.5,90v1M583.5,93v1M585.5,92v1M586.5,89v3M587.5,83v3M587.5,86v3M587.5,89v2M588.5,83v2M589.5,87v3M590.5,96v2M590.5,98v1M591.5,94v2M591.5,98v1M592.5,93v3M592.5,98v2M593.5,94v2M594.5,101v1M595.5,97v1M595.5,98v1M595.5,100v1M595.5,103v1M596.5,100v2M597.5,104v2M599.5,104v2M599.5,109v1M600.5,104v1M600.5,106v1M600.5,107v2M601.5,105v2M601.5,107v2M602.5,103v1M602.5,105v2M604.5,110v2M606.5,109v1M607.5,110v3M609.5,111v3M610.5,113v1M612.5,113v3M613.5,111v2M614.5,112v1M615.5,114v1M615.5,117v1M616.5,115v1M616.5,118v2M617.5,117v3M619.5,115v2M620.5,117v3M621.5,118v2M621.5,120v1M621.5,123v1M622.5,117v2M622.5,119v1M623.5,119v2M624.5,118v2M626.5,116v2M626.5,118v2M626.5,120v1M627.5,116v2M628.5,117v2M628.5,119v1M628.5,121v1M629.5,118v2M630.5,119v2M631.5,121v1M632.5,123v1M633.5,119v2M633.5,124v1M634.5,121v2M636.5,121v1M637.5,117v1M637.5,118v1M638.5,118v2M639.5,117v1M639.5,118v1M641.5,120v1M642.5,120v1M643.5,120v2M643.5,122v1M645.5,118v2M648.5,118v3M649.5,121v1M649.5,122v1M652.5,118v2M652.5,120v2M655.5,118v2M656.5,114v2M656.5,116v2M658.5,113v2M659.5,115v2" stroke="#ff0000" stroke-width="1" fill="none"/><path d="M21.5,132v2M23.5,124v2M25.5,129v3M27.5,131v2M31.5,128v2M37.5,128v1M40.5,127v1M44.5,119v1M46.5,117v2M48.5,121v2M48.5,123v1M56.5,130v2M61.5,133v1M63.5,135v2M66.5,136v1M67.5,135v1M67.5,136v2M69.5,135v2M72.5,137v1M73.5,136v3M76.5,138v1M82.5,137v2M83.5,137v2M86.5,136v3M92.5,138v1M92.5,139v2M99.5,140v2M103.5,141v2M103.5,143v1M112.5,142v1M116.5,141v2M118.5,140v2M119.5,140v2M126.5,137v2M126.5,139v1M127.5,139v1M127.5,140v1M128.5,140v1M131.5,141v2M137.5,141v2M139.5,141v2M146.5,141v2M150.5,139v3M150.5,142v1M153.5,141v2M156.5,142v1M158.5,141v2M159.5,141v3M163.5,142v1M167.5,140v1M169.5,138v3M175.5,136v1M177.5,137v1M178.5,137v2M181.5,138v2M182.5,137v2M182.5,139v1M185.5,136v3M188.5,137v1M197.5,137v1M197.5,138v1M198.5,136v2M203.5,136v3M205.5,138v1M206.5,136v1M207.5,136v1M208.5,136v2M210.5,137v1M211.5,138v1M213.5,137v2M214.5,136v3M215.5,138v1M216.5,138v1M217.5,137v3M223.5,132v2M228.5,133v2M228.5,135v1M229.5,133v1M230.5,134v2M231.5,134v2M232.5,137v1M237.5,140v2M240.5,141v2M246.5,141v1M246.5,142v2M247.5,141v2M249.5,141v2M250.5,140v1M252.5,140v2M254.5,142v1M257.5,140v2M258.5,139v1M263.5,138v2M269.5,137v1M272.5,136v1M276.5,131v2M277.5,132v2M282.5,133v3M286.5,131v2M288.5,130v2M289.5,129v2M292.5,127v1M292.5,128v1M295.5,124v2M299.5,127v1M300.5,127v1M302.5,127v1M304.5,126v2M307.5,125v2M308.5,125v2M310.5,126v1M311.5,127v2M317.5,127v3M318.5,128v3M320.5,127v3M321.5,129v1M322.5,127v1M330.5,130v2M331.5,132v1M334.5,131v1M335.5,130v1M337.5,129v2M341.5,130v2M345.5,128v1M349.5,125v2M351.5,125v3M353.5,128v1M355.5,127v2M357.5,128v1M358.5,126v2M359.5,126v2M364.5,127v2M369.5,127v1M372.5,127v1M373.5,126v1M374.5,125v3M375.5,125v2M376.5,124v2M376.5,126v1M382.5,124v1M384.5,120v2M387.5,126v1M388.5,127v1M389.5,127v1M393.5,124v2M394.5,125v1M395.5,126v1M398.5,124v1M400.5,125v2M402.5,125v2M409.5,131v1M411.5,129v3M412.5,129v2M415.5,129v1M419.5,132v2M420.5,133v1M428.5,131v2M429.5,133v1M430.5,132v1M433.5,127v2M435.5,127v1M436.5,127v2M438.5,130v1M442.5,125v1M443.5,125v2M444.5,125v1M448.5,124v2M448.5,126v1M454.5,124v1M455.5,122v2M455.5,124v1M457.5,121v3M458.5,121v1M465.5,118v2M466.5,118v2M467.5,118v2M468.5,117v2M471.5,117v1M474.5,118v3M474.5,121v1M478.5,120v1M479.5,119v1M483.5,123v2M484.5,121v2M485.5,124v2M486.5,118v2M487.5,116v2M490.5,115v2M495.5,108v2M497.5,106v2M498.5,104v3M498.5,107v1M499.5,109v1M500.5,109v2M501.5,109v2M504.5,108v1M505.5,104v2M506.5,104v2M506.5,106v1M512.5,104v1M514.5,100v2M517.5,95v1M518.5,97v1M520.5,90v1M521.5,84v1M522.5,75v1M522.5,76v3M522.5,83v1M522.5,84v2M523.5,84v1M524.5,85v2M524.5,93v1M524.5,102v2M525.5,86v2M525.5,98v3M526.5,90v2M527.5,97v2M528.5,88v2M528.5,90v1M528.5,92v3M528.5,97v1M530.5,91v2M530.5,93v2M531.5,94v1M532.5,85v3M532.5,90v1M533.5,85v2M534.5,85v2M535.5,80v1M535.5,85v1M536.5,79v1M536.5,80v1M537.5,81v2M537.5,87v1M538.5,81v3M538.5,84v2M540.5,83v3M543.5,78v3M545.5,83v3M545.5,86v1M546.5,81v2M549.5,71v2M549.5,81v2M549.5,83v1M550.5,73v3M550.5,76v2M550.5,78v2M551.5,70v3M551.5,73v1M551.5,74v2M551.5,76v1M552.5,69v2M553.5,67v2M553.5,74v1M554.5,71v2M554.5,75v2M555.5,70v2M556.5,78v2M557.5,76v3M559.5,78v1M562.5,88v3M564.5,88v2M564.5,92v2M565.5,89v2M570.5,93v1M571.5,83v3M572.5,83v1M572.5,84v1M572.5,85v1M573.5,78v2M573.5,80v2M574.5,81v2M574.5,83v1M574.5,84v2M575.5,82v2M575.5,84v2M575.5,86v1M575.5,87v2M576.5,79v3M576.5,85v1M577.5,80v3M578.5,90v2M580.5,87v1M580.5,93v3M581.5,88v1M581.5,91v1M582.5,92v2M583.5,86v2M583.5,88v2M583.5,94v1M585.5,85v2M589.5,90v3M590.5,90v3M590.5,95v1M595.5,99v1M599.5,106v1M600.5,105v1M601.5,103v2M602.5,104v1M603.5,105v3M603.5,110v1M604.5,107v2M604.5,109v1M605.5,108v2M605.5,112v1M606.5,111v3M608.5,113v1M613.5,115v2M614.5,113v2M615.5,118v1M617.5,115v2M618.5,116v2M620.5,120v2M621.5,121v2M623.5,118v1M624.5,116v2M629.5,120v2M632.5,119v2M634.5,123v1M635.5,118v1M642.5,117v3M642.5,121v1M645.5,121v2M647.5,118v2M649.5,123v1M651.5,123v1M653.5,120v1M653.5,121v2M654.5,117v2M654.5,119v3M657.5,112v3M659.5,114v1" stroke="#000000" stroke-width="1" fill="none"/><path d="M522.5,70V86 M573.5,54.4V80" stroke="#ff0000" stroke-width="1"/><path d="M524.5,84V110" stroke="#000" stroke-width="1"/><rect x="20.5" y="37.5" width="640" height="500" fill="none" stroke="#000" stroke-width="1"/>
<path d="M20,147.5H660M20,437.5H660" stroke="#000" stroke-width="1"/>
<path d="M20.5,537V541 M45.5,537V541 M69.5,537V541 M94.5,537V541 M119.5,537V541 M144.5,537V541 M169.5,537V541 M194.5,537V541 M219.5,537V541 M244.5,537V541 M269.5,537V541 M294.5,537V541 M319.5,537V541 M344.5,537V541 M369.5,537V541 M394.5,537V541 M419.5,537V541 M444.5,537V541 M469.5,537V541 M494.5,537V541 M519.5,537V541 M544.5,537V541 M569.5,537V541 M594.5,537V541 M619.5,537V541 M644.5,537V541 M661,147.5H665 M661,119.5H665 M661,92.5H665 M661,64.5H665 M661,37.5H665 M661,437.5H665 M661,403.5H665 M661,368.5H665 M661,334.5H665 M661,299.5H665 M661,265.5H665 M661,231.5H665 M661,196.5H665 M661,162.5H665 M661,449.5H665 M661,474.5H665 M661,525.5H665" stroke="#000" stroke-width="1"/>
<rect x="31" y="155" width="18" height="4" fill="#24e5ac"/>
<text x="24.5" y="49.8" font-size="13.7" font-weight="normal" fill="#000" textLength="76.19" lengthAdjust="spacingAndGlyphs">Aug-22&#160;&#160;2025</text><text x="535.53" y="49.8" font-size="13.7" font-weight="normal" fill="#000" textLength="101.5" lengthAdjust="spacingAndGlyphs">Palladium = 1139</text><text x="495.6" y="158.9" font-size="13.7" font-weight="normal" fill="#000" textLength="152.02" lengthAdjust="spacingAndGlyphs">Total Stocks = 126,832 oz</text><text x="562.45" y="174.8" font-size="13.7" font-weight="normal" fill="#000" textLength="85.26" lengthAdjust="spacingAndGlyphs">Change = 0 oz</text><text x="54.4" y="161.8" font-size="13.7" font-weight="normal" fill="#000" textLength="72.99" lengthAdjust="spacingAndGlyphs">Total Stocks</text><text x="23.56" y="450" font-size="13.9" font-weight="normal" fill="#000" textLength="77.2" lengthAdjust="spacingAndGlyphs">Daily Change</text><text x="562.45" y="448.8" font-size="13.7" font-weight="normal" fill="#000" textLength="85.36" lengthAdjust="spacingAndGlyphs">Change = 0 oz</text><text x="23.32" y="532.8" font-size="13.7" font-weight="normal" fill="#000" textLength="133.71" lengthAdjust="spacingAndGlyphs">Statistics Start In 2001</text>
<g font-size="11" stroke-width="0.25"><text x="668" y="151.0" fill="#111" stroke="#111">0</text><text x="668" y="123.0" fill="#111" stroke="#111">1000</text><text x="668" y="96.0" fill="#111" stroke="#111">2000</text><text x="668" y="68.0" fill="#111" stroke="#111">3000</text><text x="668" y="41.0" fill="#111" stroke="#111">4000</text><text x="668" y="441.0" fill="#111" stroke="#111">0</text><text x="668" y="407.0" fill="#111" stroke="#111">200,000</text><text x="668" y="372.0" fill="#111" stroke="#111">400,000</text><text x="668" y="338.0" fill="#111" stroke="#111">600,000</text><text x="668" y="303.0" fill="#111" stroke="#111">800,000</text><text x="668" y="269.0" fill="#111" stroke="#111">1,000,000</text><text x="668" y="235.0" fill="#111" stroke="#111">1,200,000</text><text x="668" y="200.0" fill="#111" stroke="#111">1,400,000</text><text x="668" y="166.0" fill="#111" stroke="#111">1,600,000</text><text x="668" y="453.0" fill="#111" stroke="#111">400,000</text><text x="668" y="478.0" fill="#111" stroke="#111">200,000</text><text x="668" y="529.0" fill="#111" stroke="#111">-200,000</text><text x="668" y="503.5" fill="#ff00ff" stroke="#ff00ff">0</text></g>
<g font-size="14.4" font-weight="bold" fill="#111"><text x="7.08" y="555.2" textLength="27.84" lengthAdjust="spacingAndGlyphs">2000</text><text x="56.08" y="555.2" textLength="27.84" lengthAdjust="spacingAndGlyphs">2002</text><text x="106.08" y="555.2" textLength="27.84" lengthAdjust="spacingAndGlyphs">2004</text><text x="156.08" y="555.2" textLength="27.84" lengthAdjust="spacingAndGlyphs">2006</text><text x="206.08" y="555.2" textLength="27.84" lengthAdjust="spacingAndGlyphs">2008</text><text x="256.08" y="555.2" textLength="27.84" lengthAdjust="spacingAndGlyphs">2010</text><text x="306.08" y="555.2" textLength="27.84" lengthAdjust="spacingAndGlyphs">2012</text><text x="356.08" y="555.2" textLength="27.84" lengthAdjust="spacingAndGlyphs">2014</text><text x="406.08" y="555.2" textLength="27.84" lengthAdjust="spacingAndGlyphs">2016</text><text x="456.08" y="555.2" textLength="27.84" lengthAdjust="spacingAndGlyphs">2018</text><text x="506.08" y="555.2" textLength="27.84" lengthAdjust="spacingAndGlyphs">2020</text><text x="556.08" y="555.2" textLength="27.84" lengthAdjust="spacingAndGlyphs">2022</text><text x="606.08" y="555.2" textLength="27.84" lengthAdjust="spacingAndGlyphs">2024</text></g>
<g font-size="14" font-weight="bold" fill="#222" text-anchor="middle">
<text transform="translate(749,91) rotate(-90)" textLength="94" lengthAdjust="spacingAndGlyphs">US$ Palladium</text>
<text transform="translate(749,290.7) rotate(-90)" textLength="131" lengthAdjust="spacingAndGlyphs">Ounces of Palladium</text>
<text transform="translate(749,490.3) rotate(-90)" textLength="48" lengthAdjust="spacingAndGlyphs">Change</text>
</g>
<text x="273.7" y="567.7" font-size="11" font-weight="normal" fill="#111" textLength="221.25" lengthAdjust="spacingAndGlyphs">world gold charts &#169; www.goldchartsrus.com</text>
</svg>
</body></html>
